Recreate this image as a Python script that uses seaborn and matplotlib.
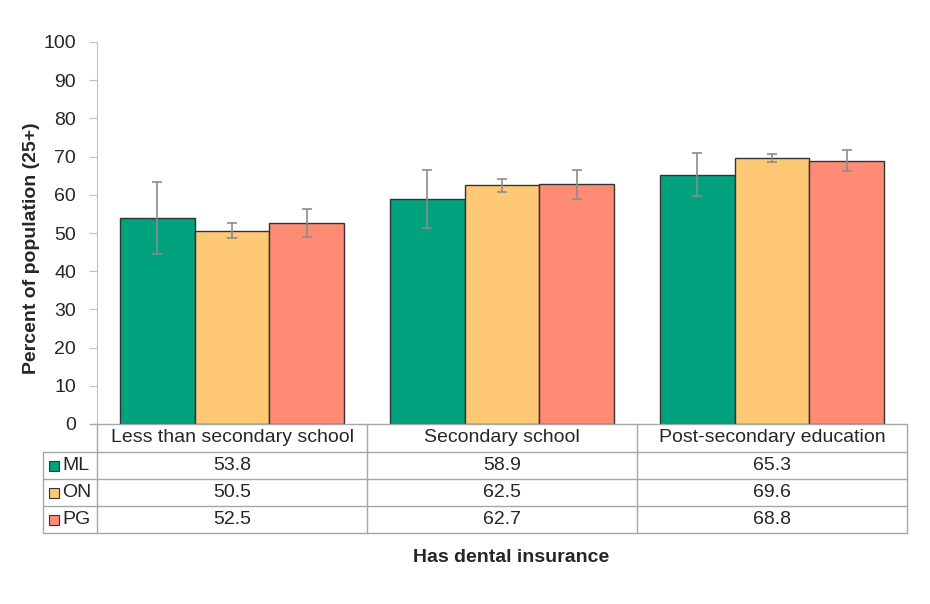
import numpy as np
import pandas as pd
import seaborn as sns
import matplotlib.pyplot as plt
from matplotlib.lines import Line2D
from matplotlib.patches import Rectangle

categories = ['Less than secondary school', 'Secondary school', 'Post-secondary education']
regions = ['ML', 'ON', 'PG']
ml = [53.8, 58.9, 65.3]
on = [50.5, 62.5, 69.6]
pg = [52.5, 62.7, 68.8]
ml_low = [44.4, 51.2, 59.7]
ml_high = [63.3, 66.6, 70.9]
on_low = [48.6, 60.8, 68.6]
on_high = [52.5, 64.2, 70.7]
pg_low = [48.9, 58.9, 66.2]
pg_high = [56.2, 66.6, 71.7]
colors = ['#00A27D', '#FFC875', '#FF8B74']

values = {'ML': ml, 'ON': on, 'PG': pg}
lows = {'ML': ml_low, 'ON': on_low, 'PG': pg_low}
highs = {'ML': ml_high, 'ON': on_high, 'PG': pg_high}

df = pd.DataFrame({
    'cat': categories * 3,
    'region': [r for r in regions for _ in categories],
    'val': ml + on + pg,
})

sns.set_style('white')
plt.rcParams['font.family'] = ['Liberation Sans', 'DejaVu Sans']
fs = 14

W, H = 930, 604
fig = plt.figure(figsize=(9.3, 6.04), dpi=100)
x0, x1, y0, y1 = 97, 907, 424, 42
ax = fig.add_axes([x0 / W, 1 - y0 / H, (x1 - x0) / W, (y0 - y1) / H])

sns.barplot(data=df, x='cat', y='val', hue='region', order=categories, hue_order=regions,
            palette=colors, width=0.83, edgecolor='#333333', linewidth=1.0,
            errorbar=None, legend=False, ax=ax, saturation=1)

# error bars
for i, r in enumerate(regions):
    bars = ax.containers[i]
    for j, b in enumerate(bars):
        cx = b.get_x() + b.get_width() / 2
        v = values[r][j]
        ax.errorbar(cx, v, yerr=[[v - lows[r][j]], [highs[r][j] - v]],
                    fmt='none', ecolor='#8c8c8c', elinewidth=1.2, capsize=3.5, capthick=1.2)

ax.set_ylim(0, 100)
ax.set_xlim(-0.5, 2.5)
ax.set_yticks(range(0, 101, 10))
ax.tick_params(axis='y', labelsize=fs, length=6, pad=9, color='#bfbfbf', direction='out', left=True)
ax.set_xticks([])
ax.set_xlabel('')
ax.set_ylabel('')
for s in ['top', 'right', 'bottom']:
    ax.spines[s].set_visible(False)
ax.spines['left'].set_color('#bfbfbf')

# data table below
def fx(px):
    return px / W

def fy(py):
    return 1 - py / H

fig.text(fx(31), fy(248), 'Percent of population (25+)', rotation=90, ha='center', va='center',
         fontsize=fs, fontweight='bold')

lc = '#a6a6a6'
col_edges = [97, 367, 637, 907]
row_edges = [424, 452, 479, 506, 533]
legend_left = 43

def hline(xa, xb, yy):
    fig.add_artist(Line2D([fx(xa), fx(xb)], [fy(yy), fy(yy)], color=lc, lw=1))

def vline(xx, ya, yb):
    fig.add_artist(Line2D([fx(xx), fx(xx)], [fy(ya), fy(yb)], color=lc, lw=1))

hline(90, x1, 424)
for ry in row_edges[1:]:
    hline(legend_left, x1, ry)
for cx in col_edges:
    vline(cx, 424, 533)
vline(legend_left, 452, 533)

for j, c in enumerate(categories):
    fig.text(fx((col_edges[j] + col_edges[j + 1]) / 2), fy(438), c, ha='center', va='center', fontsize=fs)

for i, r in enumerate(regions):
    yc = (row_edges[i + 1] + row_edges[i + 2]) / 2
    fig.add_artist(Rectangle((fx(49), fy(yc + 5)), 10 / W, 10 / H, facecolor=colors[i],
                             edgecolor='#333333', lw=0.8, transform=fig.transFigure))
    fig.text(fx(62), fy(yc), r, ha='left', va='center', fontsize=fs)
    for j in range(3):
        fig.text(fx((col_edges[j] + col_edges[j + 1]) / 2), fy(yc), f'{values[r][j]:.1f}',
                 ha='center', va='center', fontsize=fs)

fig.text(fx(511), fy(558), 'Has dental insurance', ha='center', va='center',
         fontsize=fs, fontweight='bold')

fig.savefig('out.png', dpi=100)
